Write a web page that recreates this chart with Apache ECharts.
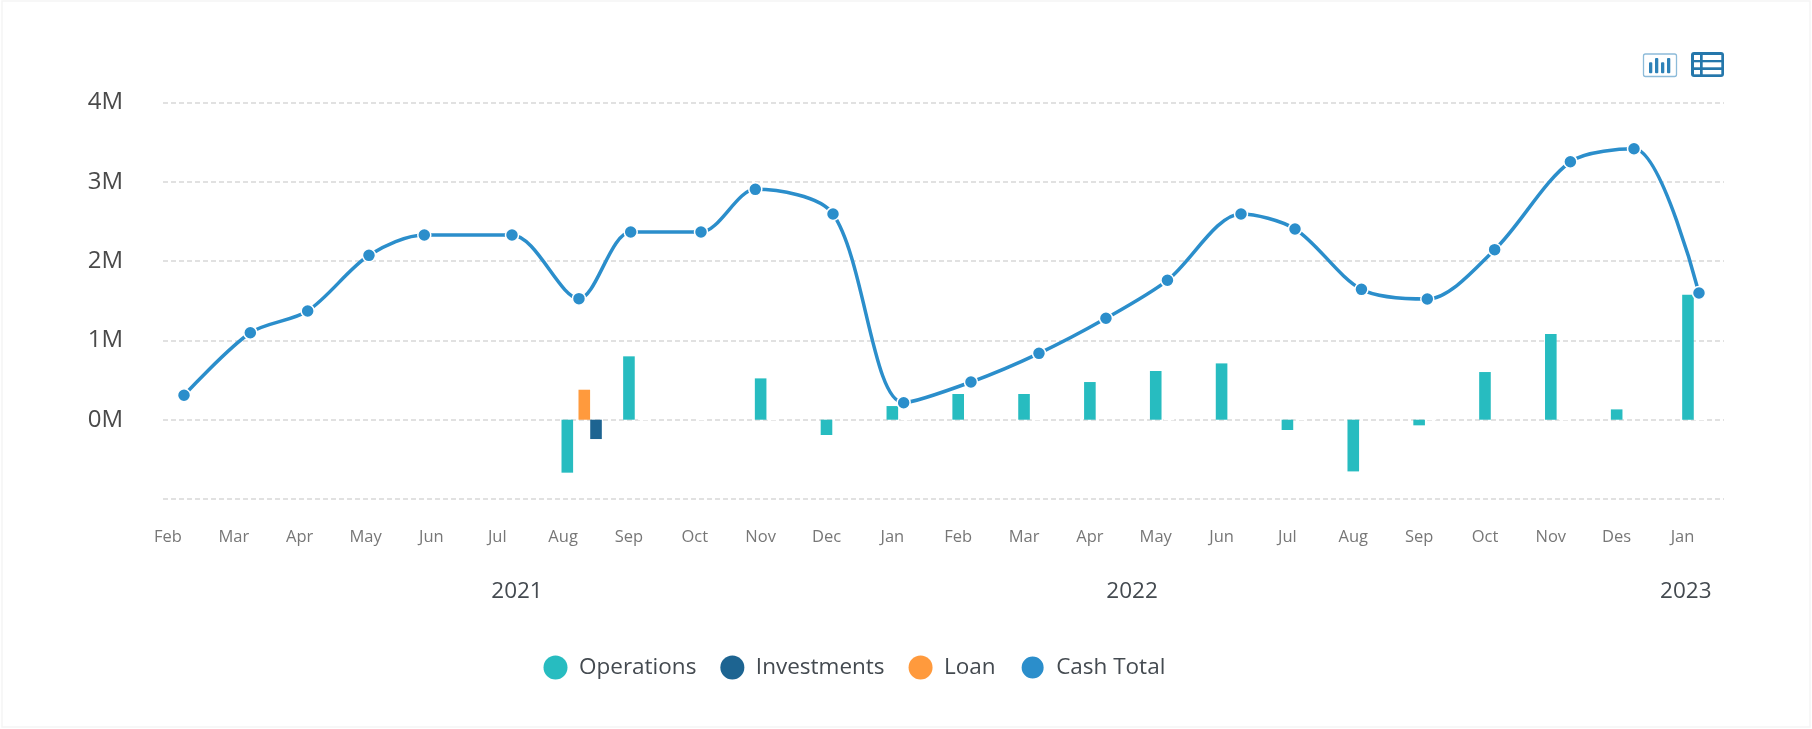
<!DOCTYPE html>
<html><head><meta charset="utf-8">
<style>html,body{margin:0;padding:0;background:#fff}#c{width:1812px;height:729px}</style>
<script src="https://cdn.jsdelivr.net/npm/echarts@6/dist/echarts.min.js"></script>
</head><body><div id="c"></div>
<script>
const months = ['Feb','Mar','Apr','May','Jun','Jul','Aug','Sep','Oct','Nov','Dec','Jan','Feb','Mar','Apr','May','Jun','Jul','Aug','Sep','Oct','Nov','Des','Jan'];
const yearLabels = ['2021','2022','2023'];
const yearPos = [5.3,14.64,23.05];
const opsPos = [6.064,7,9,10,11,12,13,14,15,16,17,18,19,20,21,22,23.083];
const opsVal = [-0.668,0.799,0.521,-0.193,0.172,0.324,0.324,0.475,0.614,0.71,-0.13,-0.652,-0.071,0.601,1.08,0.13,1.576];
const invPos = [6.5];
const invVal = [-0.244];
const loanPos = [6.322];
const loanVal = [0.378];
const emptyPos = [7.22,8.1,9.18,11.207,13.197,15.2,17.206,19.18,21.2,23.257];
const cashPos = [0.243,1.25,2.121,3.052,3.892,5.224,6.241,7.027,8.094,8.919,10.099,11.172,12.194,13.227,14.244,15.178,16.295,17.115,18.124,19.124,20.147,21.297,22.263,23.25];
const cashVal = [0.308,1.097,1.371,2.073,2.329,2.329,1.526,2.367,2.367,2.905,2.594,0.214,0.475,0.837,1.279,1.758,2.594,2.405,1.644,1.522,2.144,3.253,3.417,1.598];
const legendNames = ['Operations','Investments','Loan','Cash Total'];
const colors = ['#27bcc0','#1d6491','#ff9a3d','#2b8ecb'];
const FONT = '"Open Sans"';
const xMin = -0.076, xMax = 23.63;
const pair = (p, v) => p.map((x, i) => [x, v[i]]);
const barBase = {type:'bar', barWidth:11.6, barGap:'-100%', animation:false};
const chart = echarts.init(document.getElementById('c'), null, {renderer:'canvas'});
const rect = (x,y,w,h,fill,r) => ({type:'rect', silent:true, shape:{x,y,width:w,height:h,r:r||0}, style:{fill}});
chart.setOption({
  animation:false,
  color:colors,
  textStyle:{fontFamily:FONT},
  grid:{left:163, right:88, top:102.5, bottom:230, containLabel:false},
  legend:{left:543.5, top:654.5, padding:0, itemWidth:24, itemHeight:24, itemGap:24, icon:'circle', data:legendNames,
    textStyle:{fontFamily:FONT, fontSize:22.5, color:'#444a50', padding:[0,0,0,6.5]}},
  xAxis:[
    {type:'value', min:xMin, max:xMax, axisLine:{show:false}, axisTick:{show:false}, splitLine:{show:false},
     axisLabel:{customValues:months.map((m,i)=>i), hideOverlap:false, margin:29.5, fontSize:16.5, color:'#777',
       fontFamily:FONT, formatter:(v)=>months[Math.round(v)]}},
    {type:'value', min:xMin, max:xMax, position:'bottom', axisLine:{show:false}, axisTick:{show:false}, splitLine:{show:false},
     axisLabel:{customValues:yearPos, hideOverlap:false, margin:81.5, fontSize:22.5, color:'#444a50',
       fontFamily:FONT, formatter:(v)=>yearLabels[yearPos.indexOf(v)]}}
  ],
  yAxis:{type:'value', min:-1, max:4, interval:1, axisLine:{show:false}, axisTick:{show:false},
    splitLine:{show:true, lineStyle:{color:'#d8d8d8', width:1.5, type:[5,3]}},
    axisLabel:{margin:40, fontSize:24, color:'#4a4a4a', fontFamily:FONT, padding:[2,0,0,0], formatter:(v)=>v<0?'':v+'M'}},
  series:[
    Object.assign({}, barBase, {name:'Empty months', data:pair(emptyPos, emptyPos.map(()=>0)), barMinHeight:1, legendHoverLink:false,
      itemStyle:{color:'#fff', borderColor:'#fff', borderWidth:2}}),
    Object.assign({}, barBase, {name:'Operations', data:pair(opsPos, opsVal), itemStyle:{color:colors[0]}}),
    Object.assign({}, barBase, {name:'Investments', data:pair(invPos, invVal), itemStyle:{color:colors[1]}}),
    Object.assign({}, barBase, {name:'Loan', data:pair(loanPos, loanVal), itemStyle:{color:colors[2]}}),
    {type:'line', name:'Cash Total', data:pair(cashPos, cashVal), smooth:0.3, symbol:'circle', symbolSize:13, showAllSymbol:true,
      clip:false, lineStyle:{color:colors[3], width:3.5}, itemStyle:{color:colors[3], borderColor:'#fff', borderWidth:1.5}, z:5}
  ],
  graphic:[
    {type:'rect', silent:true, z:-1, shape:{x:2,y:1,width:1808,height:726}, style:{fill:'#fff', stroke:'#f5f5f5', lineWidth:1.5}},
    {type:'rect', silent:true, shape:{x:1643.5,y:54,width:33,height:22.5,r:2}, style:{fill:'#fff', stroke:'#8dbbd9', lineWidth:1.3}},
    rect(1649,62.3,3.3,11,'#2e82b8',1), rect(1655,58,3.3,15.3,'#2e82b8',1), rect(1661,62.3,3.3,11,'#2e82b8',1), rect(1667,58,3.3,15.3,'#2e82b8',1),
    rect(1691,52,33,25,'#2577ab',3),
    rect(1694,55,6,5,'#fff'), rect(1702.7,55,18.6,5,'#fff'),
    rect(1694,62.3,6,5,'#fff'), rect(1702.7,62.3,18.6,5,'#fff'),
    rect(1694,70,6,4.3,'#fff'), rect(1702.7,70,18.6,4.3,'#fff')
  ]
});
</script></body></html>
